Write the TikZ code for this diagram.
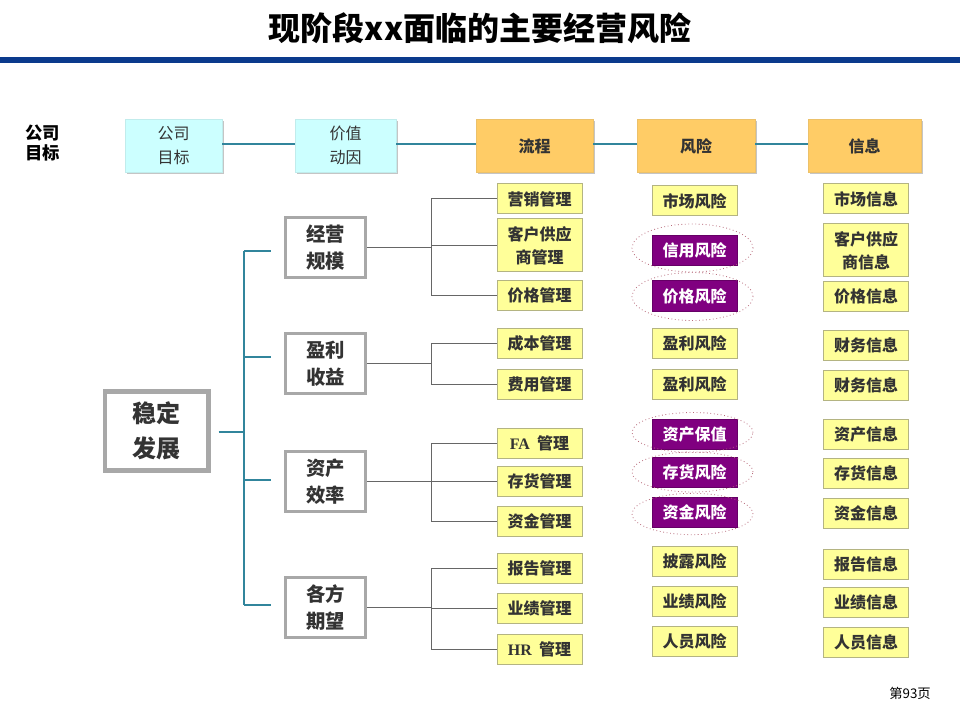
\documentclass[tikz,border=0pt]{standalone}
\usepackage{fontspec}
\setmainfont{Noto Sans CJK SC}
\newfontfamily\serifl{Liberation Serif}
\usetikzlibrary{shapes.geometric,shadows}
\definecolor{barblue}{HTML}{0B3A8C}
\definecolor{tealc}{HTML}{31859C}
\definecolor{ylw}{HTML}{FFFF99}
\definecolor{ylwb}{HTML}{B4B482}
\definecolor{purp}{HTML}{800080}
\definecolor{grayb}{HTML}{A8A8A8}
\definecolor{txt}{HTML}{333333}
\definecolor{cyanf}{HTML}{CCFFFF}
\definecolor{orangef}{HTML}{FFCC66}
\definecolor{ellc}{HTML}{B86A7A}
\tikzset{
  ybox/.style={draw=ylwb, fill=ylw, line width=0.75pt, minimum width=63.75pt, minimum height=22.5pt,
    inner sep=0pt, align=center, text=txt, font=\fontsize{12}{17}\selectfont\bfseries},
  pbox/.style={ybox, fill=purp, draw=purp!80!black, text=white},
  gbox/.style={draw=grayb, line width=2.25pt, fill=white, minimum width=60pt, minimum height=45pt,
    inner sep=0pt, align=center, text=txt, font=\fontsize{14.5}{20}\selectfont\bfseries},
  mainbox/.style={draw=grayb, line width=3pt, fill=white, minimum width=78pt, minimum height=60pt,
    inner sep=0pt, align=center, text=txt, font=\fontsize{18}{26}\selectfont\bfseries},
  topc/.style={fill=cyanf, draw=cyanf!85!gray, line width=0.4pt, minimum height=39.75pt, inner sep=0pt,
    align=center, text=txt, font=\fontsize{12}{18}\selectfont,
    drop shadow={shadow xshift=1.2pt, shadow yshift=-1.2pt, opacity=0.45}},
  topo/.style={topc, fill=orangef, draw=orangef!85!gray, font=\fontsize{12}{18}\selectfont\bfseries},
  tline/.style={draw=tealc, line width=2.2pt},
  bline/.style={draw=tealc, line width=1.6pt},
  br/.style={draw=black!60, line width=0.75pt},
  rell/.style={ellipse, draw=ellc, dotted, line width=0.6pt, minimum width=90.75pt, minimum height=36pt, inner sep=0pt},
}
\begin{document}
\begin{tikzpicture}[x=0.75pt,y=-0.75pt]
\useasboundingbox (0,0) rectangle (960,720);
\fill[white] (0,0) rectangle (960,720);

% title and bar
\node[font=\fontsize{24}{28}\selectfont\bfseries, text=black] (title) at (480,28) {现阶段xx面临的主要经营风险};
\fill[barblue] (0,57) rectangle (960,63);

% top row
\node[font=\fontsize{13}{15.5}\selectfont\bfseries, align=left, text=black] (lab) at (43,143) {公司\\目标};
\node[topc, minimum width=72.75pt] (t1) at (173.5,145.5) {公司\\目标};
\node[topc, minimum width=75.75pt] (t2) at (345.5,145.5) {价值\\动因};
\node[topo, minimum width=87.75pt] (t3) at (534.5,146) {流程};
\node[topo, minimum width=88.5pt] (t4) at (696,146) {风险};
\node[topo, minimum width=84.75pt] (t5) at (864.5,146) {信息};
\draw[tline] (t1.east |- 0,144) -- (t2.west |- 0,144);
\draw[tline] (t2.east |- 0,144) -- (t3.west |- 0,144);
\draw[tline] (t3.east |- 0,144) -- (t4.west |- 0,144);
\draw[tline] (t4.east |- 0,144) -- (t5.west |- 0,144);

% main box
\node[mainbox] (m) at (156.5,431) {稳定\\发展};
\draw[grayb, line width=0.6pt] ([shift={(3.2pt,-3.2pt)}]m.north west) rectangle ([shift={(-3.2pt,3.2pt)}]m.south east);

% gray boxes
\node[gbox] (g1) at (325.5,247.5) {经营\\规模};
\node[gbox] (g2) at (325.5,363.5) {盈利\\收益};
\node[gbox] (g3) at (325.5,481.5) {资产\\效率};
\node[gbox] (g4) at (325.5,607.5) {各方\\期望};

% teal bracket
\coordinate (bk1) at (244,251);
\coordinate (bk2) at (244,357);
\coordinate (bkm) at (244,432);
\coordinate (bk3) at (244,480);
\coordinate (bk4) at (244,605);
\draw[bline] (bk1) -- (bk4);
\draw[bline, shorten <=6pt] (m.east |- bkm) -- (bkm);
\foreach \k/\g in {bk1/g1,bk2/g2,bk3/g3,bk4/g4}
  \draw[bline, shorten >=9.5pt] (\k) -- (\k -| \g.west);

% process boxes
\node[ybox] (p1) at (539.5,199) {营销管理};
\node[ybox, minimum height=39.75pt] (p2) at (539.5,245.5) {客户供应\\商管理};
\node[ybox] (p3) at (539.5,295.5) {价格管理};
\node[ybox] (p4) at (539.5,343.5) {成本管理};
\node[ybox] (p5) at (539.5,384) {费用管理};
\node[ybox] (p6) at (539.5,443) {{\serifl FA}\ \ 管理};
\node[ybox] (p7) at (539.5,481.5) {存货管理};
\node[ybox] (p8) at (539.5,521.5) {资金管理};
\node[ybox] (p9) at (539.5,568) {报告管理};
\node[ybox] (p10) at (539.5,608) {业绩管理};
\node[ybox] (p11) at (539.5,649) {{\serifl HR}\ \ 管理};

% branches
\coordinate (bx) at (431,0);
\foreach \g/\a/\b/\cs in {g1/p1/p3/{p1,p2,p3}, g2/p4/p5/{p4,p5}, g3/p6/p8/{p6,p7,p8}, g4/p9/p11/{p9,p10,p11}}{
  \draw[br] (\g.east) -- (bx |- \g.east);
  \draw[br] (bx |- \a.west) -- (bx |- \b.west);
  \foreach \c in \cs { \draw[br] (bx |- \c.west) -- (\c.west); }
}

% risk boxes
\node[ybox] (r1) at (694.5,201) {市场风险};
\node[pbox] (r2) at (694.5,250.5) {信用风险};
\node[pbox] (r3) at (694.5,296) {价格风险};
\node[ybox] (r4) at (694.5,343.5) {盈利风险};
\node[ybox] (r5) at (694.5,384) {盈利风险};
\node[pbox] (r6) at (694.5,434.5) {资产保值};
\node[pbox] (r7) at (694.5,472.5) {存货风险};
\node[pbox] (r8) at (694.5,512.5) {资金风险};
\node[ybox] (r9) at (694.5,561) {披露风险};
\node[ybox] (r10) at (694.5,601) {业绩风险};
\node[ybox] (r11) at (694.5,641) {人员风险};

% ellipses
\node[rell] (e2) at (692.5,248) {};
\node[rell] (e3) at (692.5,296.5) {};
\node[rell, minimum height=30pt] (e6) at (692.5,432.5) {};
\node[rell, minimum height=30pt] (e7) at (692.5,472) {};
\node[rell, minimum height=31pt] (e8) at (692.5,514) {};

% info boxes
\node[ybox] (i1) at (866,199) {市场信息};
\node[ybox, minimum height=39.75pt] (i2) at (866,250.5) {客户供应\\商信息};
\node[ybox] (i3) at (866,296.5) {价格信息};
\node[ybox] (i4) at (866,345) {财务信息};
\node[ybox] (i5) at (866,385) {财务信息};
\node[ybox] (i6) at (866,434) {资产信息};
\node[ybox] (i7) at (866,473) {存货信息};
\node[ybox] (i8) at (866,513) {资金信息};
\node[ybox] (i9) at (866,564) {报告信息};
\node[ybox] (i10) at (866,602) {业绩信息};
\node[ybox] (i11) at (866,642) {人员信息};

% page number
\node[font=\fontsize{10}{12}\selectfont, text=black] (pg) at (910,693) {第93页};
\end{tikzpicture}
\end{document}
